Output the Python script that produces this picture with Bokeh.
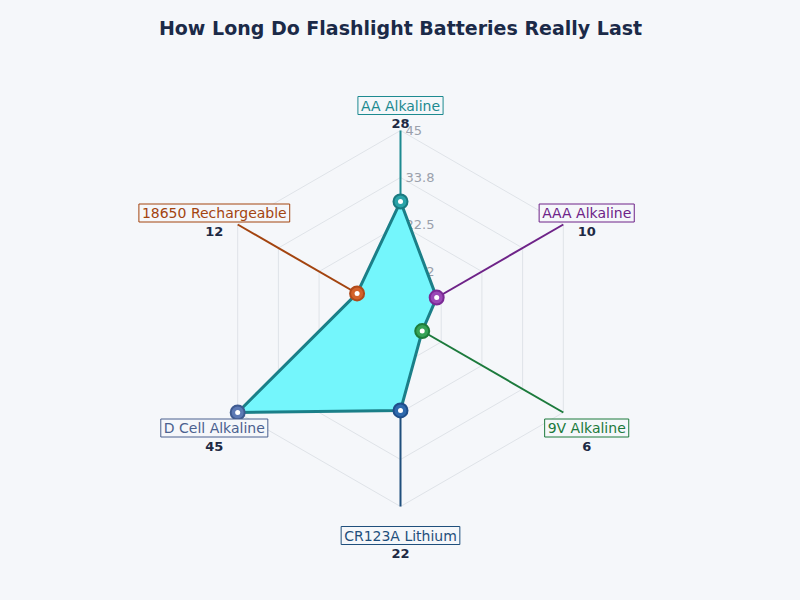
import numpy as np
from bokeh.plotting import figure
from bokeh.models import Range1d, ColumnDataSource
from bokeh.core.properties import value
from bokeh.embed import file_html
from bokeh.resources import INLINE

# ---- data ----
categories = ["AA Alkaline", "AAA Alkaline", "9V Alkaline", "CR123A Lithium", "D Cell Alkaline", "18650 Rechargeable"]
hours = [28, 10, 6, 22, 45, 12]
tick_values = [11.25, 22.5, 33.75, 45]
tick_labels = ["11.2", "22.5", "33.8", "45"]
axis_colors = ["#1d8a90", "#6e2388", "#1c7a3c", "#1f4f7c", "#4b618f", "#a3440f"]
marker_fills = ["#2aa3a8", "#9a48b6", "#36a256", "#2e69ad", "#5c79b4", "#d2622a"]
marker_lines = ["#1a7a80", "#7a2a95", "#1e7b3a", "#1f4e8a", "#3e5a90", "#b04a1a"]
title_text = "How Long Do Flashlight Batteries Really Last"

BG = "#F5F7FA"
RMAX = 45.0
R_PX = 188.0
S = R_PX / RMAX  # px per hour

n = len(categories)
ang = np.pi / 2 - np.arange(n) * 2 * np.pi / n
cosa, sina = np.cos(ang), np.sin(ang)

p = figure(width=784, height=584, output_backend="svg", toolbar_location=None,
           x_range=Range1d(-400, 384), y_range=Range1d(-266, 318),
           min_border=0, background_fill_color=BG, border_fill_color=BG,
           outline_line_color=None)
p.axis.visible = False
p.grid.visible = False

# grid rings
for tv in tick_values:
    r = tv * S
    xs = list(r * cosa) + [r * cosa[0]]
    ys = list(r * sina) + [r * sina[0]]
    p.line(xs, ys, line_color="#dfe3e8", line_width=1)

# tick labels
p.text(x=[5] * len(tick_values), y=[tv * S for tv in tick_values], text=tick_labels,
       text_font=value("DejaVu Sans"), text_font_size="13px", text_color="#9aa0ab",
       text_align="left", text_baseline="middle")

# spokes
for i in range(n):
    p.line([0, R_PX * cosa[i]], [0, R_PX * sina[i]], line_color=axis_colors[i], line_width=2)

# polygon
px = [h * S * c for h, c in zip(hours, cosa)]
py = [h * S * s for h, s in zip(hours, sina)]
p.patch(px, py, fill_color="#74F6FC", fill_alpha=1.0, line_color="#1b7f88", line_width=3)

# markers
msrc = ColumnDataSource(dict(x=px, y=py, fc=marker_fills, lc=marker_lines))
p.scatter("x", "y", source=msrc, size=14, fill_color="fc", line_color="lc", line_width=2)
p.scatter("x", "y", source=msrc, size=5, fill_color="white", line_color=None)

# category labels and values
LR = 215.0
lx = [LR * c for c in cosa]
ly = [LR * s - 2.0 for s in sina]
lsrc = ColumnDataSource(dict(x=lx, y=ly, t=categories, c=axis_colors,
                             vy=[y - 18.0 for y in ly], v=[str(h) for h in hours]))
p.text("x", "y", text="t", source=lsrc, text_font=value("DejaVu Sans"), text_font_size="14px",
       text_color="c", text_align="center", text_baseline="middle",
       background_fill_color=BG, border_line_color="c", border_line_width=1, padding=(3, 1))
p.text("x", "vy", text="v", source=lsrc, text_font=value("DejaVu Sans"), text_font_size="13px",
       text_font_style="bold", text_color="#1e2a44", text_align="center", text_baseline="middle")

# title
p.text(x=[0], y=[291], text=[title_text], text_font=value("DejaVu Sans"), text_font_size="19px",
       text_font_style="bold", text_color="#1b2a48", text_align="center", text_baseline="middle")

html = file_html(p, INLINE)
html = html.replace("<head>", "<head><style>html,body{background:#F5F7FA;}</style>", 1)
open("out.html", "w").write(html)
